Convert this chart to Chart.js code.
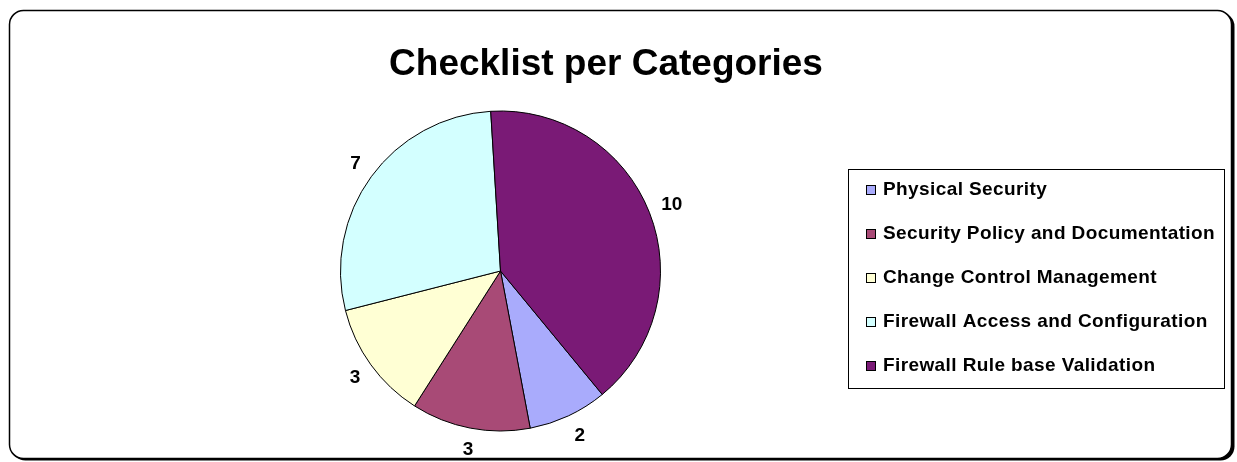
<!DOCTYPE html>
<html>
<head>
<meta charset="utf-8">
<script src="https://cdn.jsdelivr.net/npm/chart.js@4.4.1/dist/chart.umd.min.js"></script>
<style>
  html, body { margin: 0; padding: 0; background: #fff; }
  #wrap { width: 1237px; height: 462px; position: relative; }
</style>
</head>
<body>
<div id="wrap"><canvas id="pieChart" width="1237" height="462"></canvas></div>
<script>
// categories and counts
const categories = [
    'Physical Security',
    'Security Policy and Documentation',
    'Change Control Management',
    'Firewall Access and Configuration',
    'Firewall Rule base Validation'
];
const counts = [2, 3, 3, 7, 10];
const sliceColors = ['#A9ABFC', '#A84A76', '#FFFFD4', '#D3FFFF', '#7A1A76'];
const chartTitle = 'Checklist per Categories';

const FONT = 'Arial, "Liberation Sans", sans-serif';

// rounded frame with a drop shadow, plus the title
const framePlugin = {
    id: 'frame',
    beforeDraw(chart) {
        const ctx = chart.ctx;
        const rr = (x, y, w, h, r) => {
            ctx.beginPath();
            ctx.moveTo(x + r, y);
            ctx.arcTo(x + w, y, x + w, y + h, r);
            ctx.arcTo(x + w, y + h, x, y + h, r);
            ctx.arcTo(x, y + h, x, y, r);
            ctx.arcTo(x, y, x + w, y, r);
            ctx.closePath();
        };
        ctx.save();
        ctx.fillStyle = '#fff';
        ctx.fillRect(0, 0, chart.width, chart.height);
        rr(11.5, 12.5, 1223, 448, 14);
        ctx.fillStyle = '#000';
        ctx.fill();
        rr(9.5, 10.5, 1222, 448, 14);
        ctx.fillStyle = '#fff';
        ctx.fill();
        ctx.lineWidth = 1.5;
        ctx.strokeStyle = '#000';
        ctx.stroke();

        ctx.fillStyle = '#000';
        ctx.font = 'bold 37px ' + FONT;
        ctx.textAlign = 'center';
        ctx.textBaseline = 'alphabetic';
        ctx.fillText(chartTitle, 606, 75);
        ctx.restore();
    }
};

// value labels just outside each slice
const valueLabels = {
    id: 'valueLabels',
    afterDatasetsDraw(chart) {
        const ctx = chart.ctx;
        const meta = chart.getDatasetMeta(0);
        ctx.save();
        ctx.fillStyle = '#000';
        ctx.font = 'bold 19px ' + FONT;
        ctx.textAlign = 'center';
        ctx.textBaseline = 'middle';
        meta.data.forEach((arc, i) => {
            const p = arc.getProps(['x', 'y', 'startAngle', 'endAngle', 'outerRadius'], true);
            const mid = (p.startAngle + p.endAngle) / 2;
            const r = p.outerRadius + 22;
            ctx.fillText(String(counts[i]), p.x + 2 + Math.cos(mid) * r, p.y + Math.sin(mid) * r);
        });
        ctx.restore();
    }
};

// boxed legend on the right
const boxLegend = {
    id: 'boxLegend',
    afterDraw(chart) {
        const ctx = chart.ctx;
        ctx.save();
        ctx.fillStyle = '#fff';
        ctx.fillRect(848.5, 169.5, 376, 219);
        ctx.strokeStyle = '#000';
        ctx.lineWidth = 1;
        ctx.strokeRect(848.5, 169.5, 376, 219);
        ctx.font = 'bold 19px ' + FONT;
        ctx.letterSpacing = '0.4px';
        ctx.textAlign = 'left';
        ctx.textBaseline = 'alphabetic';
        categories.forEach((name, i) => {
            const base = 195 + i * 44;
            ctx.fillStyle = sliceColors[i];
            ctx.fillRect(866.5, base - 9.5, 9, 9);
            ctx.strokeStyle = '#000';
            ctx.strokeRect(866.5, base - 9.5, 9, 9);
            ctx.fillStyle = '#000';
            ctx.fillText(name, 883, base);
        });
        ctx.restore();
    }
};

new Chart(document.getElementById('pieChart'), {
    type: 'pie',
    data: {
        labels: categories,
        datasets: [{
            data: counts,
            backgroundColor: sliceColors,
            borderColor: '#000',
            borderWidth: 1,
            hoverOffset: 0
        }]
    },
    options: {
        responsive: false,
        animation: false,
        rotation: 140.5,
        layout: { padding: { left: 340, right: 576, top: 110, bottom: 30 } },
        plugins: {
            legend: { display: false },
            title: { display: false },
            tooltip: { enabled: false }
        }
    },
    plugins: [framePlugin, valueLabels, boxLegend]
});
</script>
</body>
</html>
